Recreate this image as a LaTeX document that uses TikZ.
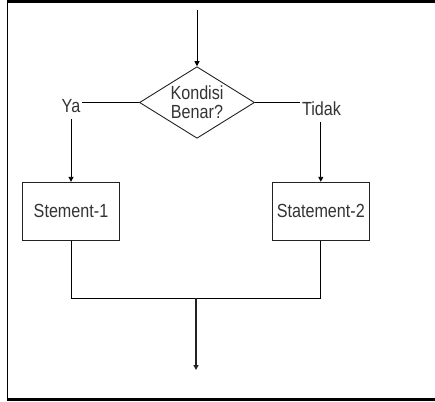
\documentclass[tikz,border=0pt]{standalone}
\usepackage{fontspec}
\setmainfont{Liberation Sans}
\usetikzlibrary{arrows.meta,shapes.geometric}
\newcommand{\nar}[1]{\scalebox{0.85}[1]{#1}}
\definecolor{txt}{HTML}{333333}
\definecolor{ln}{HTML}{222222}
\tikzset{
  lbl/.style={font=\fontsize{19}{20}\selectfont, text=txt, inner sep=1.5pt},
  dec/.style={diamond, draw=ln, line width=0.9pt, minimum width=115pt, minimum height=71.6pt, inner sep=0pt, aspect=1.6,
              font=\fontsize{19}{20}\selectfont, text=txt, align=center},
  stbox/.style={rectangle, draw=ln, line width=1.1pt, minimum width=96.5pt, minimum height=57.7pt, inner sep=0pt,
              font=\fontsize{19}{20}\selectfont, text=txt},
  conn/.style={draw=black, line width=0.9pt},
  arr/.style={conn, -{Triangle[length=5pt,width=5pt]}},
  frame/.style={draw=black, line cap=butt}
}
\begin{document}
\begin{tikzpicture}[x=1pt,y=-1pt]
\useasboundingbox (0,0) rectangle (435,401);
% frame (top, left, bottom)
\draw[frame, line width=3pt] (6.5,1.8) -- (435,1.8);
\draw[frame, line width=1.5pt] (7.5,0.5) -- (7.5,400);
\draw[frame, line width=3pt] (6.5,399) -- (435,399);
% nodes
\node[dec] (d) at (197,102.5) {\nar{Kondisi}\\[-1pt]\nar{Benar?}};
\node[lbl, anchor=base] (ya) at (71,112.3) {\nar{Ya}};
\node[lbl, anchor=base] (td) at (321.5,115.7) {\nar{Tidak}};
\node[stbox] (b1) at (71,211.2) {\nar{Stement-1}};
\node[stbox] (b2) at (320.8,211.2) {\nar{Statement-2}};
\coordinate (start) at (197,10);
\coordinate (m) at (196,298.3);
\coordinate (fin) at (196,370);
% connectors
\draw[arr] (start) -- (d.north);
\draw[conn] (d.west) -- (d.west -| ya.east);
\draw[conn] (d.east) -- (d.east -| td.west);
\draw[arr, shorten <=5pt] (ya.south -| b1.north) -- (b1.north);
\draw[arr, shorten <=4pt] (td.south -| b2.north) -- (b2.north);
\draw[conn] (b1.south) |- (m) -| (b2.south);
\draw[arr, draw=ln, line width=1.6pt] (m) -- (fin);
\end{tikzpicture}
\end{document}
